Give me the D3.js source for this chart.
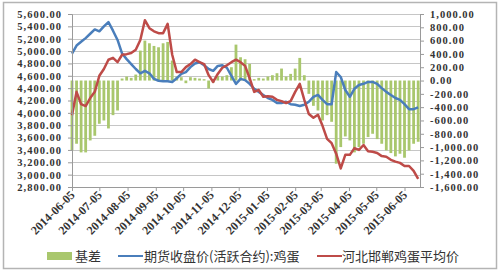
<!DOCTYPE html>
<meta charset="utf-8">
<script src="https://d3js.org/d3.v7.min.js"></script>
<style>
body { margin: 0; background: #fff; }
.tick text { font-family: "Liberation Serif", serif; fill: #333; }
</style>
<body>
<div id="vis"></div>
<script>

var dates = ["2014-06-05","2014-06-10","2014-06-15","2014-06-20","2014-06-25","2014-06-30","2014-07-05","2014-07-10",
  "2014-07-15","2014-07-20","2014-07-25","2014-07-30","2014-08-04","2014-08-09","2014-08-14","2014-08-19",
  "2014-08-24","2014-08-29","2014-09-03","2014-09-08","2014-09-13","2014-09-18","2014-09-23","2014-09-28",
  "2014-10-03","2014-10-08","2014-10-13","2014-10-18","2014-10-23","2014-10-28","2014-11-02","2014-11-07",
  "2014-11-12","2014-11-17","2014-11-22","2014-11-27","2014-12-02","2014-12-07","2014-12-12","2014-12-17",
  "2014-12-22","2014-12-27","2015-01-01","2015-01-06","2015-01-11","2015-01-16","2015-01-21","2015-01-26",
  "2015-01-31","2015-02-05","2015-02-10","2015-02-15","2015-02-20","2015-02-25","2015-03-02","2015-03-07",
  "2015-03-12","2015-03-17","2015-03-22","2015-03-27","2015-04-01","2015-04-06","2015-04-11","2015-04-16",
  "2015-04-21","2015-04-26","2015-05-01","2015-05-06","2015-05-11","2015-05-16","2015-05-21","2015-05-26",
  "2015-05-31","2015-06-05","2015-06-10","2015-06-15","2015-06-20"];

// 期货收盘价(活跃合约):鸡蛋
var futures = [4960,5090,5150,5210,5280,5350,5320,5400,5470,5330,5180,4960,4870,4790,4710,4640,
  4680,4640,4550,4520,4510,4510,4500,4560,4630,4660,4740,4800,4820,4770,4710,4680,
  4760,4770,4730,4600,4470,4550,4530,4470,4390,4340,4290,4240,4210,4160,4160,4180,
  4140,4130,4110,4130,4180,4260,4290,4210,4140,4140,4660,4580,4370,4260,4390,4450,
  4470,4500,4500,4470,4400,4340,4290,4240,4210,4140,4060,4060,4090];

// 河北邯郸鸡蛋平均价
var spot = [3960,4340,4140,4110,4240,4340,4600,4710,4860,4890,4820,4940,4950,4970,5020,5180,
  5500,5370,5320,5290,5290,5440,4940,4660,4660,4740,4790,4860,4820,4790,4610,4500,
  4630,4730,4770,4820,4860,4820,4760,4560,4340,4370,4260,4270,4260,4210,4190,4160,
  4190,4340,4470,4210,3980,3920,3970,3790,3580,3510,3340,3100,3320,3320,3430,3400,
  3480,3380,3370,3350,3300,3290,3240,3210,3190,3140,3140,3060,2930];

// 基差
var basis = [-1050,-950,-1080,-1080,-900,-830,-650,-600,-720,-520,-450,30,60,40,90,450,
  600,560,520,500,560,580,300,60,50,-40,50,40,30,20,-120,-30,
  70,60,80,200,540,350,320,250,20,40,30,60,80,110,180,60,
  100,180,340,80,-200,-380,-450,-600,-520,-620,-1250,-1000,-840,-900,-1080,-1000,
  -950,-850,-800,-880,-950,-1050,-1090,-1140,-1100,-1160,-1050,-950,-920];

var monthTicks = ["2014-06-05","2014-07-05","2014-08-05","2014-09-05","2014-10-05","2014-11-05","2014-12-05",
  "2015-01-05","2015-02-05","2015-03-05","2015-04-05","2015-05-05","2015-06-05"];
var leftTicks = d3.range(2800, 5601, 200);
var rightTicks = d3.range(-1600, 1001, 200);
var legendNames = ["基差", "期货收盘价(活跃合约):鸡蛋", "河北邯郸鸡蛋平均价"];

var parse = d3.timeParse("%Y-%m-%d");
var rows = dates.map(function(d, i) {
  return {date: parse(d), futures: futures[i], spot: spot[i], basis: basis[i]};
});

var width = 500, height = 272;
var plotL = 72, plotR = 420, plotT = 14, plotB = 187;

var fmt = d3.formatLocale({decimal: ".", thousands: ",", grouping: [3], currency: ["", ""], minus: "-"}).format(",.2f");

var x = d3.scaleTime()
  .domain([parse("2014-06-05"), parse("2015-06-22")])
  .range([plotL, plotR]);
var yL = d3.scaleLinear().domain([2800, 5600]).range([plotB, plotT]);
var yR = d3.scaleLinear().domain([-1600, 1000]).range([plotB, plotT]);

var svg = d3.select("#vis").append("svg")
  .attr("width", width)
  .attr("height", height);

svg.append("rect")
  .attr("x", 3.5).attr("y", 2.5)
  .attr("width", 493).attr("height", 266)
  .attr("fill", "#fff")
  .attr("stroke", "#b4b4b4")
  .attr("stroke-width", 1.5);

// gridlines
svg.append("g")
  .selectAll("line")
  .data(leftTicks)
  .enter().append("line")
  .attr("x1", plotL).attr("x2", plotR)
  .attr("y1", function(d) { return Math.round(yL(d)) + 0.5; })
  .attr("y2", function(d) { return Math.round(yL(d)) + 0.5; })
  .attr("stroke", "#c6c6c6");

// bars
var barW = 2.8;
svg.append("g")
  .selectAll("rect")
  .data(rows)
  .enter().append("rect")
  .attr("x", function(d) { return x(d.date) - barW / 2; })
  .attr("width", barW)
  .attr("y", function(d) { return Math.min(yR(d.basis), yR(0)); })
  .attr("height", function(d) { return Math.abs(yR(d.basis) - yR(0)); })
  .attr("fill", "#a9c76d");

var lineF = d3.line()
  .x(function(d) { return x(d.date); })
  .y(function(d) { return yL(d.futures); });
var lineS = d3.line()
  .x(function(d) { return x(d.date); })
  .y(function(d) { return yL(d.spot); });

svg.append("path")
  .datum(rows)
  .attr("d", lineF)
  .attr("fill", "none")
  .attr("stroke", "#4a7ebb")
  .attr("stroke-width", 2.5)
  .attr("stroke-linejoin", "round");

svg.append("path")
  .datum(rows)
  .attr("d", lineS)
  .attr("fill", "none")
  .attr("stroke", "#be4b48")
  .attr("stroke-width", 2.5)
  .attr("stroke-linejoin", "round");

// axes
var gl = svg.append("g")
  .attr("transform", "translate(" + plotL + ",0)")
  .call(d3.axisLeft(yL).tickValues(leftTicks).tickFormat(fmt).tickSize(4).tickPadding(6));
gl.selectAll("text").style("font-size", "10.5px").style("font-weight", "bold").style("letter-spacing", "1px");

var gr = svg.append("g")
  .attr("transform", "translate(" + plotR + ",0)")
  .call(d3.axisRight(yR).tickValues(rightTicks).tickFormat(fmt).tickSize(4).tickPadding(6));
gr.selectAll("text").style("font-size", "10.5px").style("font-weight", "bold").style("letter-spacing", "1px");

var gx = svg.append("g")
  .attr("transform", "translate(0," + plotB + ")")
  .call(d3.axisBottom(x).tickValues(monthTicks.map(parse)).tickFormat(d3.timeFormat("%Y-%m-%d")).tickSize(4).tickSizeOuter(0));
gx.selectAll("text")
  .style("font-size", "12px")
  .style("font-weight", "bold")
  .style("text-anchor", "end")
  .attr("dy", "0.35em")
  .attr("y", 4)
  .attr("x", -4)
  .attr("transform", "rotate(-45)");

svg.selectAll(".domain, .tick line").attr("stroke", "#9a9a9a");

// legend
var lg = svg.append("g").style("font-family", "'Noto Sans CJK SC', sans-serif").style("font-size", "13px");
lg.append("rect").attr("x", 47).attr("y", 252).attr("width", 25).attr("height", 8).attr("fill", "#a9c76d");
lg.append("text").attr("x", 75).attr("y", 261).attr("fill", "#333").text(legendNames[0]);
lg.append("line").attr("x1", 118).attr("x2", 143).attr("y1", 256).attr("y2", 256).attr("stroke", "#4a7ebb").attr("stroke-width", 2);
lg.append("text").attr("x", 144).attr("y", 261).attr("fill", "#333").text(legendNames[1]);
lg.append("line").attr("x1", 317).attr("x2", 342).attr("y1", 256).attr("y2", 256).attr("stroke", "#be4b48").attr("stroke-width", 2);
lg.append("text").attr("x", 342).attr("y", 261).attr("fill", "#333").text(legendNames[2]);

</script>
</body>
